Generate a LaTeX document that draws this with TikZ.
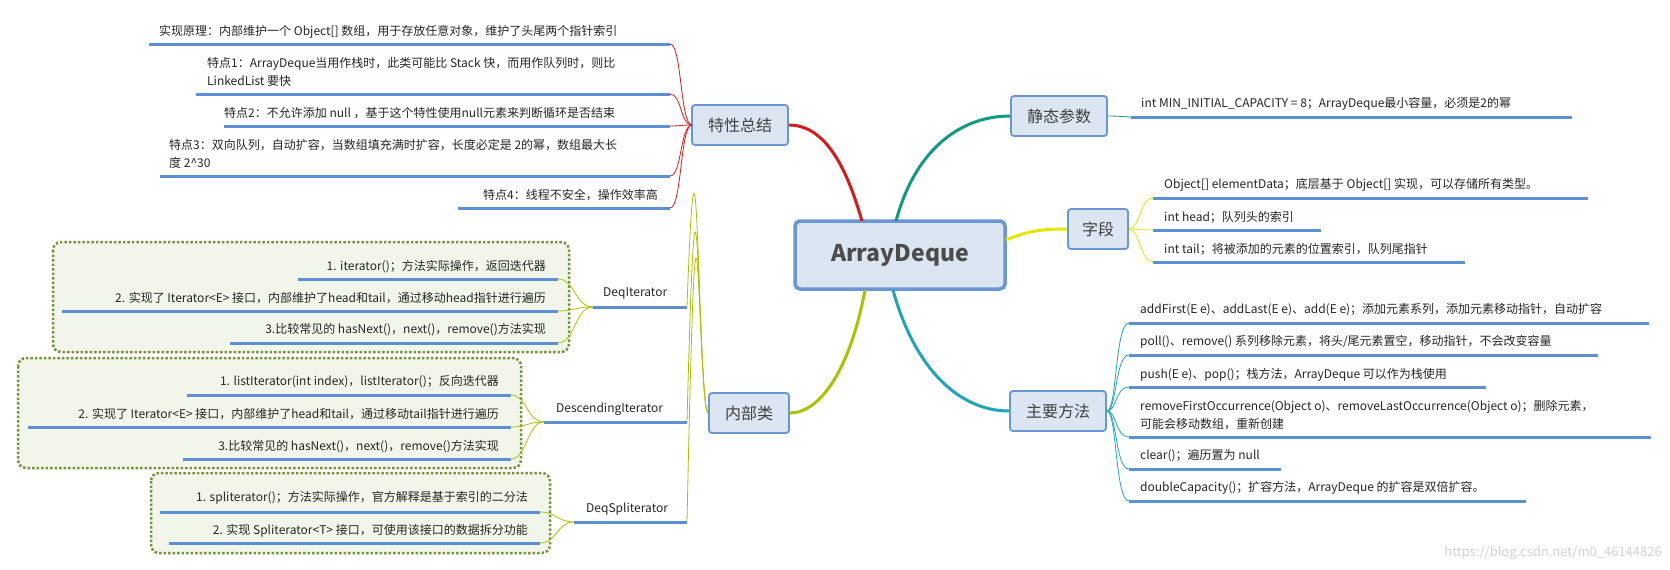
\documentclass[tikz,border=0pt]{standalone}
\usepackage{fontspec}
\setmainfont{Noto Sans CJK SC}
\begin{document}
\begin{tikzpicture}[x=1pt,y=-1pt,
  tx/.style={font=\fontsize{12}{18}\selectfont,inner sep=0pt,text=black!85,align=left},
  ul/.style={draw=ulc,line width=3pt},
  topic/.style={draw=boxb,fill=boxf,line width=1.8pt,rounded corners=3pt,font=\fontsize{16}{18}\selectfont,text=black!75,inner sep=0pt},
  dotbox/.style={draw=olv,fill=dotf,line width=2.5pt,dotted,rounded corners=8pt},
  br/.style={line width=0.8pt}]
\definecolor{ulc}{HTML}{5B8FD6}
\definecolor{boxb}{HTML}{6A96D6}
\definecolor{boxf}{HTML}{DCE6F2}
\definecolor{olv}{HTML}{77933C}
\definecolor{dotf}{HTML}{F2F6EA}
\definecolor{cred}{HTML}{D81A1A}
\definecolor{cteal}{HTML}{109B7E}
\definecolor{cyel}{HTML}{E6E600}
\definecolor{cblue}{HTML}{1EA5BA}
\definecolor{cgrn}{HTML}{A8C400}
\useasboundingbox (0,0) rectangle (1670,570);
\fill[white] (0,0) rectangle (1670,570);

% dotted boxes
\draw[dotbox] (53,242) rectangle (569,352);
\draw[dotbox] (18,358) rectangle (521,468);
\draw[dotbox] (151,473) rectangle (550,553);

% center
\node[draw=boxb,fill=boxf,line width=3.5pt,rounded corners=5pt,minimum width=210pt,minimum height=68pt,font=\bfseries\fontsize{23}{26}\selectfont,text=black!70] (c) at (900,255) {ArrayDeque};

% topics
\node[topic,minimum width=96pt,minimum height=40pt] (t1) at (740,125) {特性总结};
\node[topic,minimum width=96pt,minimum height=40pt] (t2) at (1059,116) {静态参数};
\node[topic,minimum width=60pt,minimum height=40pt] (t3) at (1098,229) {字段};
\node[topic,minimum width=96pt,minimum height=40pt] (t4) at (1058,411) {主要方法};
\node[topic,minimum width=80pt,minimum height=40pt] (t5) at (749,413) {内部类};

% main connectors
\draw[cred,line width=3pt] (t1.east) .. controls (830,125) and (850,180) .. (862,221);
\draw[cteal,line width=3pt] (896,221) .. controls (915,150) and (960,116) .. (t2.west);
\draw[cyel,line width=3pt] (1006,240) .. controls (1030,230) and (1045,229) .. (t3.west);
\draw[cblue,line width=3pt] (893,290) .. controls (915,370) and (960,411) .. (t4.west);
\draw[cgrn,line width=3pt] (865,290) .. controls (850,370) and (820,413) .. (t5.east);

% ---- 特性总结
\coordinate (h1) at (692,125);
\node[tx,anchor=west] (a1) at (159,32) {实现原理：内部维护一个 Object[] 数组，用于存放任意对象，维护了头尾两个指针索引};
\node[tx,anchor=west] (a2) at (207,72) {特点1：ArrayDeque当用作栈时，此类可能比 Stack 快，而用作队列时，则比\\LinkedList 要快};
\node[tx,anchor=west] (a3) at (224,113) {特点2：不允许添加 null ，基于这个特性使用null元素来判断循环是否结束};
\node[tx,anchor=west] (a4) at (169,154) {特点3：双向队列，自动扩容，当数组填充满时扩容，长度必定是 2的幂，数组最大长\\度 2\^{}30};
\node[tx,anchor=east] (a5) at (658,195) {特点4：线程不安全，操作效率高};
\foreach \y/\x [count=\i] in {44/149,94/196,126/224,176/160,208/458}{
  \coordinate (e\i) at (670,\y);
  \draw[ul] (\x,\y) -- (e\i);
  \draw[cred,br] (h1) .. controls (680,125) and (682,\y) .. (e\i);
}

% ---- 静态参数
\node[tx,anchor=west] (b1) at (1141,104) {int MIN\_INITIAL\_CAPACITY = 8；ArrayDeque最小容量，必须是2的幂};
\coordinate (f1) at (1131,117);
\draw[ul] (f1) -- (1572,117);
\draw[cteal,br] (t2.east) .. controls (1120,116) and (1125,117) .. (f1);

% ---- 字段
\node[tx,anchor=west] (d1) at (1164,185) {Object[] elementData；底层基于 Object[] 实现，可以存储所有类型。};
\node[tx,anchor=west] (d2) at (1164,217) {int head；队列头的索引};
\node[tx,anchor=west] (d3) at (1164,249) {int tail；将被添加的元素的位置索引，队列尾指针};
\foreach \y/\x [count=\i] in {198/1588,230/1321,262/1465}{
  \coordinate (g\i) at (1153,\y);
  \draw[ul] (g\i) -- (\x,\y);
  \draw[cyel,br] (t3.east) .. controls (1140,229) and (1140,\y) .. (g\i);
}

% ---- 主要方法
\node[tx,anchor=west] (m1) at (1140,310) {addFirst(E e)、addLast(E e)、add(E e)；添加元素系列，添加元素移动指针，自动扩容};
\node[tx,anchor=west] (m2) at (1140,342) {poll()、remove() 系列移除元素，将头/尾元素置空，移动指针，不会改变容量};
\node[tx,anchor=west] (m3) at (1140,375) {push(E e)、pop()；栈方法，ArrayDeque 可以作为栈使用};
\node[tx,anchor=west] (m4) at (1140,415) {removeFirstOccurrence(Object o)、removeLastOccurrence(Object o)；删除元素，\\可能会移动数组，重新创建};
\node[tx,anchor=west] (m5) at (1140,456) {clear()；遍历置为 null};
\node[tx,anchor=west] (m6) at (1140,488) {doubleCapacity()；扩容方法，ArrayDeque 的扩容是双倍扩容。};
\foreach \y/\x [count=\i] in {323/1649,355/1598,387/1486,437/1651,469/1281,501/1526}{
  \coordinate (k\i) at (1129,\y);
  \draw[ul] (k\i) -- (\x,\y);
  \draw[cblue,br] (t4.east) .. controls (1117,411) and (1115,\y) .. (k\i);
}

% ---- 内部类
\node[tx,anchor=west] (l1) at (603,293) {DeqIterator};
\node[tx,anchor=west] (l2) at (556,409) {DescendingIterator};
\node[tx,anchor=west] (l3) at (586,509) {DeqSpliterator};
\coordinate (p1) at (593,307); \coordinate (q1) at (687,307);
\coordinate (p2) at (544,422); \coordinate (q2) at (687,422);
\coordinate (p3) at (574,522); \coordinate (q3) at (687,522);
\foreach \i in {1,2,3}{
  \draw[ul] (p\i) -- (q\i);
  \draw[cgrn,br] (t5.west) .. controls (698,413) and (698,\the\numexpr0\relax+0) .. (q\i);
}

% DeqIterator items
\node[tx,anchor=east] (i1) at (546,267) {1. iterator()；方法实际操作，返回迭代器};
\node[tx,anchor=east] (i2) at (546,298) {2. 实现了 Iterator<E> 接口，内部维护了head和tail，通过移动head指针进行遍历};
\node[tx,anchor=east] (i3) at (546,330) {3.比较常见的 hasNext()，next()，remove()方法实现};
\foreach \y/\x [count=\i] in {279/298,311/62,343/230}{
  \coordinate (r\i) at (558,\y);
  \draw[ul] (\x,\y) -- (r\i);
  \draw[cgrn,br] (p1) .. controls (575,307) and (575,\y) .. (r\i);
}
% DescendingIterator items
\node[tx,anchor=east] (j1) at (499,382) {1. listIterator(int index)，listIterator()；反向迭代器};
\node[tx,anchor=east] (j2) at (499,414) {2. 实现了 Iterator<E> 接口，内部维护了head和tail，通过移动tail指针进行遍历};
\node[tx,anchor=east] (j3) at (499,447) {3.比较常见的 hasNext()，next()，remove()方法实现};
\foreach \y/\x [count=\i] in {395/187,427/28,459/183}{
  \coordinate (s\i) at (511,\y);
  \draw[ul] (\x,\y) -- (s\i);
  \draw[cgrn,br] (p2) .. controls (527,422) and (527,\y) .. (s\i);
}
% DeqSpliterator items
\node[tx,anchor=east] (n1) at (528,498) {1. spliterator()；方法实际操作，官方解释是基于索引的二分法};
\node[tx,anchor=east] (n2) at (528,531) {2. 实现 Spliterator<T> 接口，可使用该接口的数据拆分功能};
\foreach \y/\x [count=\i] in {512/160,543/169}{
  \coordinate (u\i) at (540,\y);
  \draw[ul] (\x,\y) -- (u\i);
  \draw[cgrn,br] (p3) .. controls (557,522) and (557,\y) .. (u\i);
}

\node[tx,anchor=east,text=black!18,font=\fontsize{13}{15}\selectfont] (wm) at (1662,553) {https://blog.csdn.net/m0\_46144826};
\end{tikzpicture}
\end{document}
